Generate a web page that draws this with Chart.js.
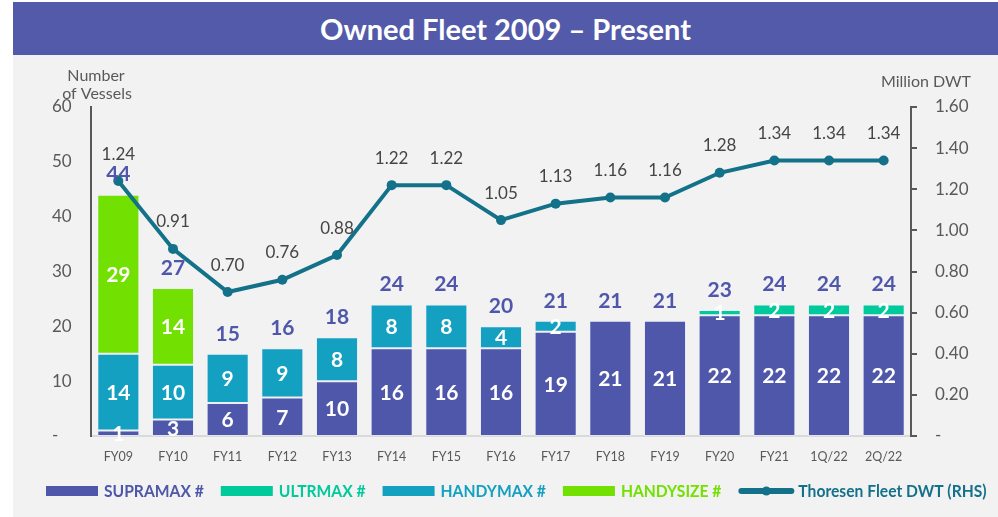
<!DOCTYPE html>
<html>
<head>
<meta charset="utf-8">
<script src="https://cdn.jsdelivr.net/npm/chart.js@4.4.1/dist/chart.umd.min.js"></script>
<style>
  html, body { margin: 0; padding: 0; background: #ffffff; }
  body { width: 998px; height: 517px; position: relative; overflow: hidden; }
  #title {
    position: absolute; left: 13px; top: 2px; width: 985px; height: 53px;
    background: #535aa9; color: #ffffff;
    font: bold 29px Lato, "Open Sans", sans-serif;
    display: flex; align-items: center; justify-content: center;
  }
  #panel { position: absolute; left: 13px; top: 55px; width: 985px; height: 462px; background: #f2f2f2; }
  canvas { display: block; }
</style>
</head>
<body>
<div id="title">Owned Fleet 2009 – Present</div>
<div id="panel"><canvas id="fleet" width="985" height="462"></canvas></div>
<script>
// Fiscal periods
const periods = ['FY09', 'FY10', 'FY11', 'FY12', 'FY13', 'FY14', 'FY15', 'FY16', 'FY17', 'FY18', 'FY19', 'FY20', 'FY21', '1Q/22', '2Q/22'];

// Number of vessels by class
const supramax  = [1, 3, 6, 7, 10, 16, 16, 16, 19, 21, 21, 22, 22, 22, 22];
const ultramax  = [0, 0, 0, 0, 0, 0, 0, 0, 0, 0, 0, 1, 2, 2, 2];
const handymax  = [14, 10, 9, 9, 8, 8, 8, 4, 2, 0, 0, 0, 0, 0, 0];
const handysize = [29, 14, 0, 0, 0, 0, 0, 0, 0, 0, 0, 0, 0, 0, 0];

// Total fleet deadweight, million DWT (right-hand scale)
const fleetDwt = [1.24, 0.91, 0.70, 0.76, 0.88, 1.22, 1.22, 1.05, 1.13, 1.16, 1.16, 1.28, 1.34, 1.34, 1.34];

// Axis ticks
const vesselTicks = [0, 10, 20, 30, 40, 50, 60];
const dwtTicks = [0, 0.2, 0.4, 0.6, 0.8, 1.0, 1.2, 1.4, 1.6];

const COLORS = {
  supramax: '#4f57aa',
  ultramax: '#00c99b',
  handymax: '#14a0c1',
  handysize: '#72e000',
  line: '#137189',
  axisText: '#595959',
  valueText: '#454545'
};

const totals = periods.map((_, i) => supramax[i] + ultramax[i] + handymax[i] + handysize[i]);
const nz = arr => arr.map(v => (v > 0 ? v : null));

const FONT = 'Lato, "Open Sans", sans-serif';

// Labels inside segments, totals above stacks, DWT values above points
const valueLabels = {
  id: 'valueLabels',
  afterDatasetsDraw(chart) {
    const ctx = chart.ctx;
    const y = chart.scales.y;
    ctx.save();
    ctx.textAlign = 'center';
    ctx.textBaseline = 'middle';

    chart.data.datasets.forEach((ds, di) => {
      if (ds.type !== 'bar') return;
      const meta = chart.getDatasetMeta(di);
      ctx.font = 'bold 21px ' + FONT;
      ctx.fillStyle = '#ffffff';
      meta.data.forEach((el, i) => {
        const v = ds.data[i];
        if (!v) return;
        ctx.fillText(String(v), el.x, (el.y + el.base) / 2 + 1);
      });
    });

    const barMeta = chart.getDatasetMeta(0);
    ctx.font = 'bold 21px ' + FONT;
    ctx.fillStyle = COLORS.supramax;
    totals.forEach((t, i) => {
      ctx.fillText(String(t), barMeta.data[i].x, y.getPixelForValue(t) - 20);
    });

    const lineIdx = chart.data.datasets.findIndex(d => d.type === 'line');
    const lineMeta = chart.getDatasetMeta(lineIdx);
    ctx.font = '17px ' + FONT;
    ctx.fillStyle = COLORS.valueText;
    lineMeta.data.forEach((pt, i) => {
      ctx.fillText(fleetDwt[i].toFixed(2), pt.x, pt.y - 27);
    });
    ctx.restore();
  }
};

// Axis titles and legend row
const decorations = {
  id: 'decorations',
  afterDraw(chart) {
    const ctx = chart.ctx;
    const area = chart.chartArea;
    ctx.save();
    ctx.textBaseline = 'middle';
    ctx.textAlign = 'center';
    ctx.font = '16px ' + FONT;
    ctx.fillStyle = COLORS.axisText;
    ctx.fillText('Number', area.left + 5, 21);
    ctx.fillText('of Vessels', area.left + 6, 39);
    ctx.fillText('Million DWT', area.right + 15, 27);

    const items = [
      { text: 'SUPRAMAX #', color: COLORS.supramax, kind: 'box' },
      { text: 'ULTRMAX #', color: COLORS.ultramax, kind: 'box' },
      { text: 'HANDYMAX #', color: COLORS.handymax, kind: 'box' },
      { text: 'HANDYSIZE #', color: COLORS.handysize, kind: 'box' },
      { text: 'Thoresen Fleet DWT (RHS)', color: COLORS.line, kind: 'line' }
    ];
    const squeeze = 0.92;
    let x = 33;
    const cy = 436;
    ctx.textAlign = 'left';
    ctx.font = 'bold 17px ' + FONT;
    items.forEach(it => {
      ctx.fillStyle = it.color;
      ctx.strokeStyle = it.color;
      if (it.kind === 'box') {
        ctx.fillRect(x, cy - 5, 52, 10);
        x += 52 + 6;
      } else {
        ctx.lineWidth = 6;
        ctx.lineCap = 'round';
        ctx.beginPath();
        ctx.moveTo(x + 3, cy);
        ctx.lineTo(x + 53, cy);
        ctx.stroke();
        ctx.beginPath();
        ctx.arc(x + 28, cy, 4.5, 0, Math.PI * 2);
        ctx.fill();
        x += 56 + 4;
      }
      const w = ctx.measureText(it.text).width * squeeze;
      ctx.save();
      ctx.translate(x, cy + 1);
      ctx.scale(squeeze, 1);
      ctx.fillText(it.text, 0, 0);
      ctx.restore();
      x += w + 17;
    });
    ctx.restore();
  }
};

const barDataset = (label, data, color) => ({
  type: 'bar',
  label,
  data: nz(data),
  backgroundColor: color,
  borderColor: 'rgba(235,238,255,0.55)',
  borderWidth: 1,
  borderSkipped: false,
  barPercentage: 0.77,
  categoryPercentage: 1,
  yAxisID: 'y',
  order: 1
});

new Chart(document.getElementById('fleet'), {
  data: {
    labels: periods,
    datasets: [
      barDataset('SUPRAMAX #', supramax, COLORS.supramax),
      barDataset('ULTRMAX #', ultramax, COLORS.ultramax),
      barDataset('HANDYMAX #', handymax, COLORS.handymax),
      barDataset('HANDYSIZE #', handysize, COLORS.handysize),
      {
        type: 'line',
        label: 'Thoresen Fleet DWT (RHS)',
        data: fleetDwt,
        borderColor: COLORS.line,
        backgroundColor: COLORS.line,
        borderWidth: 4,
        pointRadius: 5,
        pointBackgroundColor: COLORS.line,
        pointBorderWidth: 0,
        tension: 0,
        yAxisID: 'y2',
        order: 0
      }
    ]
  },
  options: {
    responsive: false,
    animation: false,
    devicePixelRatio: 1,
    layout: { padding: { left: 39, right: 0, top: 52, bottom: 0 } },
    plugins: {
      legend: { display: false },
      tooltip: { enabled: false },
      title: { display: false }
    },
    scales: {
      x: {
        stacked: true,
        grid: { display: false, drawTicks: true, tickLength: 8 },
        border: { display: true, color: '#d9d9d9', width: 2 },
        ticks: { color: COLORS.axisText, font: { family: FONT, size: 12.5 }, padding: 5, maxRotation: 0, autoSkip: false },
        afterFit(s) { s.height = 81; }
      },
      y: {
        stacked: true,
        position: 'left',
        min: 0,
        max: 60,
        afterBuildTicks(s) { s.ticks = vesselTicks.map(v => ({ value: v })); },
        grid: { display: false, drawTicks: false },
        border: { display: true, color: '#595959', width: 2 },
        ticks: {
          color: COLORS.axisText,
          font: { family: FONT, size: 17 },
          crossAlign: 'far',
          callback: v => (v === 0 ? '-' : String(v))
        },
        afterFit(s) { s.width = 39; }
      },
      y2: {
        position: 'right',
        min: 0,
        max: 1.6,
        afterBuildTicks(s) { s.ticks = dwtTicks.map(v => ({ value: v })); },
        grid: { display: true, drawOnChartArea: false, drawTicks: true, tickLength: 6, color: '#595959', lineWidth: 2 },
        border: { display: true, color: '#595959', width: 2 },
        ticks: {
          color: COLORS.axisText,
          font: { family: FONT, size: 17 },
          padding: 18,
          callback: v => (v === 0 ? '-' : v.toFixed(2))
        },
        afterFit(s) { s.width = 87; }
      }
    }
  },
  plugins: [valueLabels, decorations]
});
</script>
</body>
</html>
